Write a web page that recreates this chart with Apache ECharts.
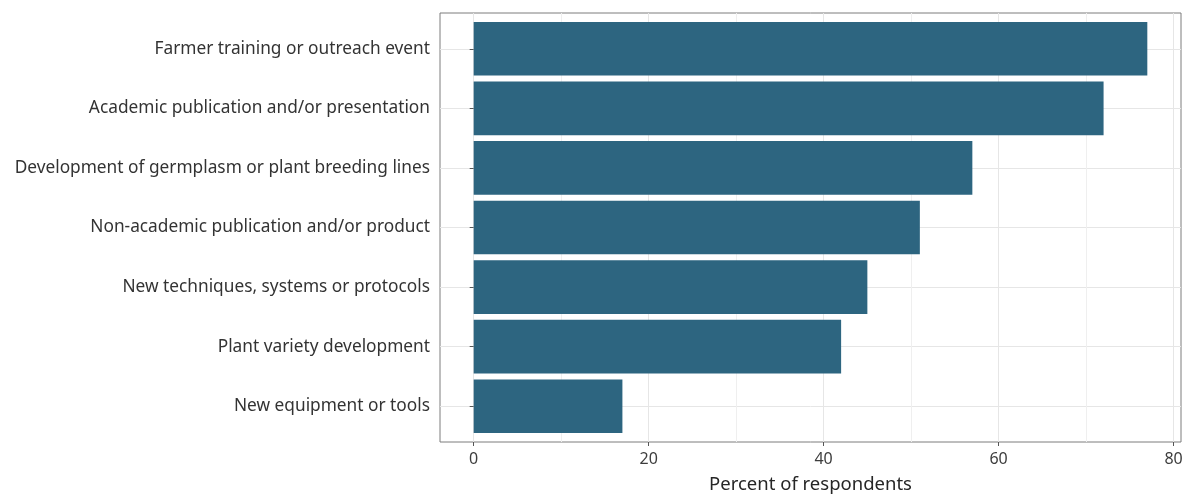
<!DOCTYPE html>
<html>
<head>
<meta charset="utf-8">
<script src="https://cdn.jsdelivr.net/npm/echarts@6/dist/echarts.min.js"></script>
<style>
  html, body { margin: 0; padding: 0; background: #ffffff; }
  #chart { width: 1185px; height: 495px; }
</style>
</head>
<body>
<div id="chart"></div>
<script>
// Data (top to bottom as shown)
const categories = [
  "Farmer training or outreach event",
  "Academic publication and/or presentation",
  "Development of germplasm or plant breeding lines",
  "Non-academic publication and/or product",
  "New techniques, systems or protocols",
  "Plant variety development",
  "New equipment or tools"
];
const percents = [77, 72, 57, 51, 45, 42, 17];
const xMajorTicks = [0, 20, 40, 60, 80];
const xMinorTicks = [10, 30, 50, 70];
const xAxisTitle = "Percent of respondents";

// ggplot-like expansion of the value range (5% each side)
const dataMax = Math.max.apply(null, percents);
const xMin = -0.05 * dataMax;
const xMax = dataMax * 1.05;

const FONT = "Noto Sans";
const chart = echarts.init(document.getElementById('chart'), null, { renderer: 'canvas' });

const option = {
  animation: false,
  backgroundColor: '#ffffff',
  grid: [
    // outer panel
    { left: 440, right: 4, top: 13, bottom: 53, show: true, borderColor: '#7d7d7d', borderWidth: 1, backgroundColor: 'transparent', containLabel: false, outerBoundsMode: 'none' },
    // inner band area (discrete expansion 0.6 vs 0.5)
    { left: 440, right: 4, top: 19, bottom: 59, containLabel: false, outerBoundsMode: 'none' }
  ],
  xAxis: [
    {
      gridIndex: 0, type: 'value', position: 'bottom', min: xMin, max: xMax,
      axisLine: { show: false },
      axisTick: { show: true, length: 4, lineStyle: { color: '#555', width: 1 }, customValues: xMajorTicks },
      axisLabel: { show: true, customValues: xMajorTicks, margin: 9, color: '#3d3d3d', fontFamily: FONT, fontSize: 16 },
      splitLine: { show: true, lineStyle: { color: '#e6e6e6', width: 1 } },
      name: xAxisTitle, nameLocation: 'middle', nameGap: 33,
      nameTextStyle: { color: '#262626', fontFamily: FONT, fontSize: 18.5 }
    },
    {
      gridIndex: 0, type: 'value', position: 'top', min: xMin, max: xMax,
      axisLine: { show: false },
      axisTick: { show: false, customValues: xMinorTicks },
      axisLabel: { show: false, customValues: xMinorTicks },
      splitLine: { show: true, lineStyle: { color: '#efefef', width: 1 } }
    },
    {
      gridIndex: 1, type: 'value', min: xMin, max: xMax, show: false
    }
  ],
  yAxis: [
    { gridIndex: 0, type: 'value', min: 0, max: 1, show: false },
    {
      gridIndex: 1, type: 'category', data: categories, inverse: true,
      axisLine: { show: false },
      axisTick: { show: true, alignWithLabel: true, length: 4, lineStyle: { color: '#555', width: 1 } },
      axisLabel: { color: '#333333', fontFamily: FONT, fontSize: 17.3, margin: 10 },
      splitLine: { show: true, alignWithLabel: true, lineStyle: { color: '#e6e6e6', width: 1 } }
    }
  ],
  series: [
    {
      type: 'bar', xAxisIndex: 2, yAxisIndex: 1,
      data: percents,
      barCategoryGap: '10%',
      itemStyle: { color: '#2d6580' },
      z: 3
    }
  ]
};
chart.setOption(option);
</script>
</body>
</html>
